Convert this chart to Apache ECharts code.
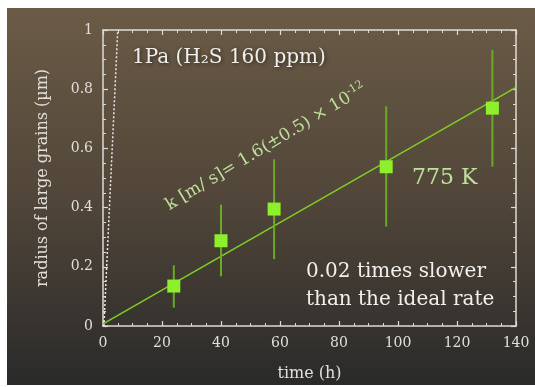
<!DOCTYPE html>
<html>
<head>
<meta charset="utf-8">
<script src="https://cdn.jsdelivr.net/npm/echarts@6/dist/echarts.min.js"></script>
<style>
  html, body { margin: 0; padding: 0; background: #fff; }
  #chart { width: 535px; height: 387px; }
</style>
</head>
<body>
<div id="chart"></div>
<script>
// measured grain radius (um) vs time (h)
const times = [24, 40, 58, 96, 132];
const radius = [0.135, 0.288, 0.395, 0.538, 0.736];
const errLow = [0.062, 0.168, 0.226, 0.336, 0.538];
const errHigh = [0.205, 0.410, 0.563, 0.742, 0.933];
// fitted growth line and ideal-rate line
const fitLine = [[0, 0.007], [140, 0.806]];
const idealLine = [[0.3, 0], [5, 1]];

const serif = '"DejaVu Serif", "Liberation Serif", serif';
const axisColor = '#dedbd4';

const chart = echarts.init(document.getElementById('chart'), null, { renderer: 'canvas' });

const tickStyle = {
  axisLine: { show: true, onZero: false, lineStyle: { color: axisColor, width: 1.5 } },
  axisTick: { show: true, inside: true, length: 5, lineStyle: { color: axisColor, width: 1.2 } },
  minorTick: { show: true, splitNumber: 4, length: 3, lineStyle: { color: axisColor, width: 1 } },
  splitLine: { show: false },
};

const option = {
  backgroundColor: '#ffffff',
  animation: false,
  grid: { left: 103, top: 30, width: 413, height: 299 },
  graphic: [
    {
      type: 'rect',
      z: -100,
      silent: true,
      shape: { x: 7, y: 8, width: 528, height: 377 },
      style: {
        fill: new echarts.graphic.LinearGradient(0, 0, 0, 1, [
          { offset: 0, color: '#6b5b46' },
          { offset: 0.5, color: '#514639' },
          { offset: 1, color: '#2a2a2a' },
        ]),
      },
    },
    {
      type: 'text',
      z: 100,
      x: 132, y: 58,
      style: {
        text: '1Pa (H₂S 160 ppm)',
        font: '20px ' + serif,
        fill: '#f2f0ec',
        textVerticalAlign: 'middle',
        textShadowColor: 'rgba(0,0,0,0.6)',
        textShadowBlur: 4,
        textShadowOffsetX: 1,
        textShadowOffsetY: 1,
      },
    },
    {
      type: 'text',
      z: 100,
      x: 266, y: 147,
      rotation: 31 * Math.PI / 180,
      style: {
        text: 'k [m/ s]= 1.6(±0.5) × 10{sup|-12}',
        font: '17px ' + serif,
        fill: '#bfe09c',
        textAlign: 'center',
        textVerticalAlign: 'middle',
        rich: {
          sup: { fontSize: 11, fontFamily: serif, fill: '#bfe09c', verticalAlign: 'top', padding: [0, 0, 10, 0] },
        },
      },
    },
    {
      type: 'text',
      z: 100,
      x: 412, y: 178,
      style: {
        text: '775 K',
        font: '22px ' + serif,
        fill: '#bfe09c',
        textVerticalAlign: 'middle',
      },
    },
    {
      type: 'text',
      z: 100,
      x: 306, y: 272,
      style: {
        text: '0.02 times slower',
        font: '20px ' + serif,
        fill: '#f2f0ec',
        textVerticalAlign: 'middle',
      },
    },
    {
      type: 'text',
      z: 100,
      x: 306, y: 300,
      style: {
        text: 'than the ideal rate',
        font: '20px ' + serif,
        fill: '#f2f0ec',
        textVerticalAlign: 'middle',
      },
    },
  ],
  xAxis: [
    Object.assign({
      type: 'value', min: 0, max: 140, interval: 20, position: 'bottom',
      name: 'time (h)', nameLocation: 'middle', nameGap: 40,
      nameTextStyle: { color: '#e2ded8', fontFamily: serif, fontSize: 16 },
      axisLabel: { color: '#e2ded8', fontFamily: serif, fontSize: 14, margin: 10 },
    }, tickStyle),
    Object.assign({
      type: 'value', min: 0, max: 140, interval: 20, position: 'top',
      axisLabel: { show: false },
    }, tickStyle),
  ],
  yAxis: [
    Object.assign({
      type: 'value', min: 0, max: 1, interval: 0.2, position: 'left',
      name: 'radius of large grains (µm)', nameLocation: 'middle', nameGap: 52,
      nameTextStyle: { color: '#e2ded8', fontFamily: serif, fontSize: 16 },
      axisLabel: { color: '#e2ded8', fontFamily: serif, fontSize: 14, margin: 10 },
    }, tickStyle),
    Object.assign({
      type: 'value', min: 0, max: 1, interval: 0.2, position: 'right',
      axisLabel: { show: false },
    }, tickStyle),
  ],
  series: [
    {
      type: 'line',
      data: idealLine,
      showSymbol: false,
      lineStyle: { color: '#e8e8e8', width: 1.5, type: [2, 2] },
      z: 3,
    },
    {
      type: 'line',
      data: fitLine,
      showSymbol: false,
      lineStyle: { color: '#7fd022', width: 1.5 },
      z: 3,
    },
    {
      type: 'custom',
      data: times.map((t, i) => [t, errLow[i], errHigh[i]]),
      renderItem: function (params, api) {
        const lo = api.coord([api.value(0), api.value(1)]);
        const hi = api.coord([api.value(0), api.value(2)]);
        return {
          type: 'line',
          shape: { x1: lo[0], y1: lo[1], x2: hi[0], y2: hi[1] },
          style: { stroke: '#6aaa26', lineWidth: 2 },
        };
      },
      z: 4,
    },
    {
      type: 'scatter',
      data: times.map((t, i) => [t, radius[i]]),
      symbol: 'rect',
      symbolSize: 13,
      itemStyle: { color: '#8cf02c', opacity: 1 },
      z: 5,
    },
  ],
};

chart.setOption(option);
</script>
</body>
</html>
